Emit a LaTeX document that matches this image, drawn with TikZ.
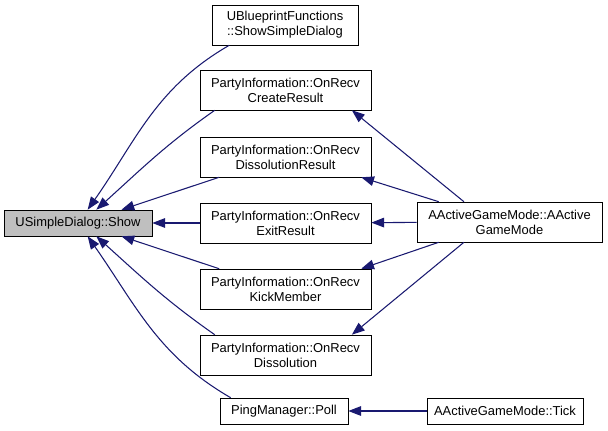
\documentclass[tikz,border=0pt]{standalone}
\usepackage{fontspec}
\setmainfont{Liberation Sans}
\usetikzlibrary{arrows.meta}
\definecolor{edgeblue}{RGB}{25,25,112}
\begin{document}
\begin{tikzpicture}[x = 0.025cm, y = -0.025cm,
        fn/.style = {draw, fill = white, align = center, inner xsep = 2pt,
            font = \fontsize{9.2}{10.6}\selectfont, minimum height = 1cm},
        fnone/.style = {fn, minimum height = 0.65cm},
        calls/.style = {draw = edgeblue, line width = 0.75pt,
            -{Triangle[length = 0.32cm, width = 0.24cm]}}]
                \useasboundingbox (0, 0) rectangle (608, 430);

                \node[fnone, fill = gray!50, minimum width = 3.7cm] (show) at (78, 223) {USimpleDialog::Show};
                \node[fn, minimum width = 3.65cm] (ub) at (285, 25) {UBlueprintFunctions\\::ShowSimpleDialog};
                \node[fn, minimum width = 4.275cm] (create) at (285.5, 90) {PartyInformation::OnRecv\\CreateResult};
                \node[fn, minimum width = 4.275cm] (dissres) at (285.5, 157) {PartyInformation::OnRecv\\DissolutionResult};
                \node[fn, minimum width = 4.275cm] (exit) at (285.5, 223) {PartyInformation::OnRecv\\ExitResult};
                \node[fn, minimum width = 4.275cm] (kick) at (285.5, 289) {PartyInformation::OnRecv\\KickMember};
                \node[fn, minimum width = 4.275cm] (diss) at (285.5, 355) {PartyInformation::OnRecv\\Dissolution};
                \node[fnone, minimum width = 3.2cm] (poll) at (284, 411) {PingManager::Poll};
                \node[fn, minimum width = 4.625cm] (ctor) at (509.5, 222) {AActiveGameMode::AActive\\GameMode};
                \node[fnone, minimum width = 3.9cm] (tick) at (505, 411) {AActiveGameMode::Tick};

                \draw[calls] (ub.200) to[out = 210, in = 55] (show.54);
                \draw[calls] (create.196) to[out = 215, in = 42] (show.36);
                \draw[calls] (dissres.197) to (show.17);
                \draw[calls] (exit) to (show);
                \draw[calls] (kick.163) to (show.-17);
                \draw[calls] (diss.164) to[out = 145, in = -42] (show.-36);
                \draw[calls] (poll.166) to[out = 150, in = -55] (show.-54);

                \draw[calls] (ctor.156) to (create.-17);
                \draw[calls] (ctor.164) to (dissres.-15);
                \draw[calls] (ctor) to (exit);
                \draw[calls] (ctor.196) to (kick.15);
                \draw[calls] (ctor.204) to (diss.17);
                \draw[calls] (tick) to (poll);
            \end{tikzpicture}
\end{document}
